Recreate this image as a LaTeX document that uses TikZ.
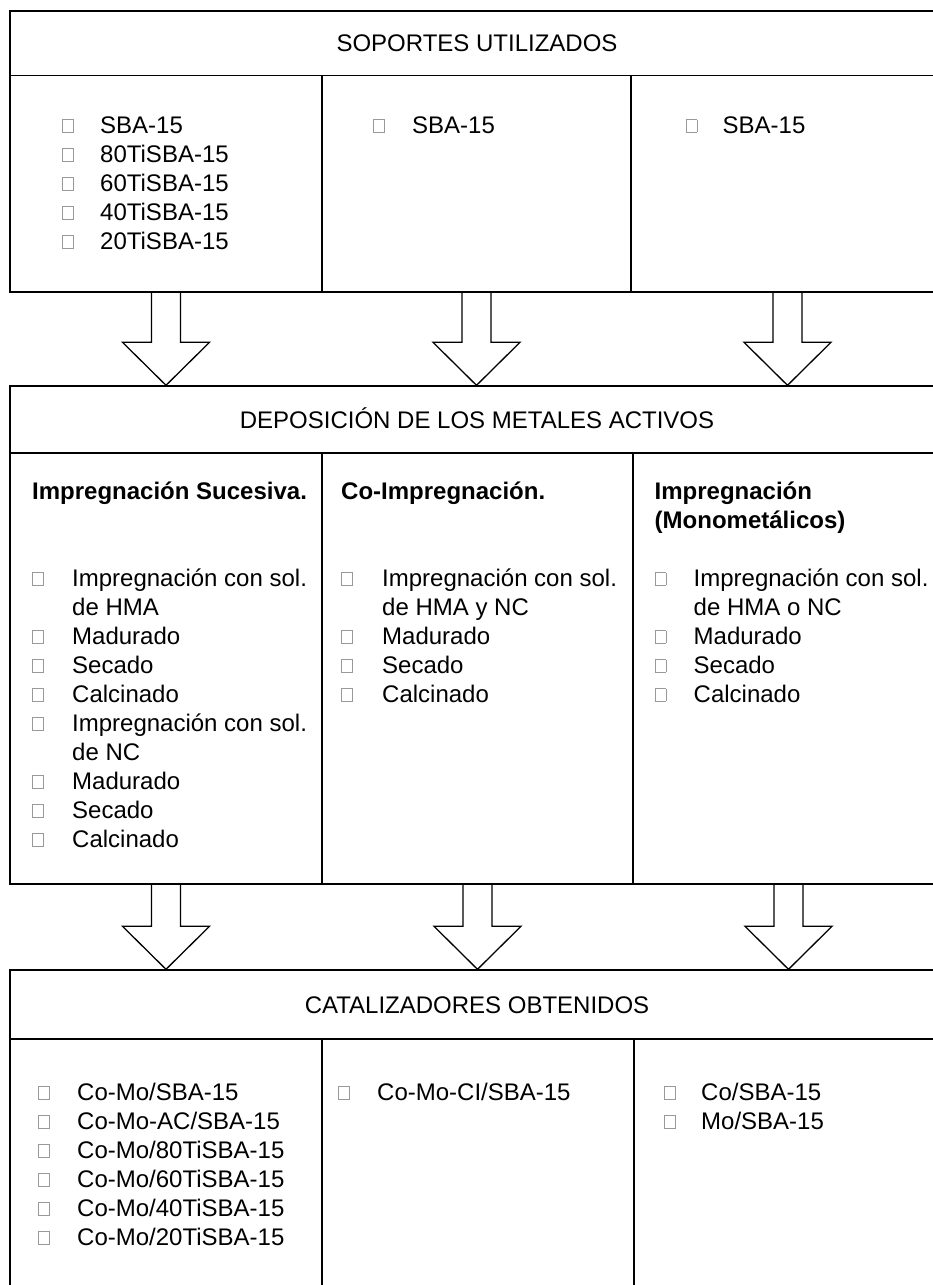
\documentclass[tikz,border=0pt]{standalone}
\usepackage{fontspec}
\setmainfont{Liberation Sans}
\usetikzlibrary{calc}
\newcommand\bx{\raisebox{1.5pt}{\textcolor{black!40}{\setlength\fboxsep{0pt}\setlength\fboxrule{0.8pt}\fbox{\rule{0pt}{11.5pt}\hspace*{10pt}}}}}
\newlength\bgap
\newcommand\itm[1]{\makebox[\bgap][l]{\bx}#1}
\newcommand\cnt[1]{\hspace*{\bgap}#1}
\newcommand\lst[2]{\setlength\bgap{#1}\begin{tabular}[t]{@{}l@{}}#2\end{tabular}}
\newcommand\blockarrow[2]{\draw[barrow] let \p1=(#1), \p2=(#2) in
  (\x1-14.5pt,\y1) -- (\x1-14.5pt,\y2+43pt) -- (\x1-43.5pt,\y2+43pt) -- (\x2,\y2)
  -- (\x1+43.5pt,\y2+43pt) -- (\x1+14.5pt,\y2+43pt) -- (\x1+14.5pt,\y1);}
\tikzset{
  cell/.style={draw, line width=1.4pt, inner sep=0pt},
  hdr/.style={draw, line width=1.4pt, inner sep=0pt, font=\fontsize{24}{29}\selectfont, text height=17.2pt, text depth=0pt},
  txt/.style={inner sep=0pt, anchor=base west, font=\fontsize{24}{29}\selectfont},
  barrow/.style={line width=1.3pt, line join=miter}
}
\begin{document}
\begin{tikzpicture}[x=1pt,y=-1pt]
\useasboundingbox (0,0) rectangle (933,1285);
\clip (0,0) rectangle (933,1285);
\fill[white] (0,0) rectangle (933,1285);
% top box
\node[hdr, minimum width=934pt, minimum height=64.5pt] (sh) at (477,43.25) {SOPORTES UTILIZADOS};
\node[cell, minimum width=312pt, minimum height=216.5pt] (s1) at (166,183.75) {};
\node[cell, minimum width=309pt, minimum height=216.5pt] (s2) at (476.5,183.75) {};
\node[cell, minimum width=313pt, minimum height=216.5pt] (s3) at (787.5,183.75) {};
\node[txt] (s1t) at (62,133) {\lst{38pt}{\itm{SBA-15}\\ \itm{80TiSBA-15}\\ \itm{60TiSBA-15}\\ \itm{40TiSBA-15}\\ \itm{20TiSBA-15}}};
\node[txt] (s2t) at (373,133) {\lst{39pt}{\itm{SBA-15}}};
\node[txt] (s3t) at (685.5,133) {\lst{37pt}{\itm{SBA-15}}};
% second box
\node[hdr, minimum width=934pt, minimum height=67pt] (dh) at (477,419.5) {DEPOSICIÓN DE LOS METALES ACTIVOS};
\node[cell, minimum width=312pt, minimum height=431pt] (d1) at (166,668.5) {};
\node[cell, minimum width=311pt, minimum height=431pt] (d2) at (477.5,668.5) {};
\node[cell, minimum width=311pt, minimum height=431pt] (d3) at (788.5,668.5) {};
\node[txt] (d1t) at (32,499) {\lst{40pt}{\textbf{Impregnación Sucesiva.}\\ \\ \\
  \itm{Impregnación con sol.}\\ \cnt{de HMA}\\ \itm{Madurado}\\ \itm{Secado}\\ \itm{Calcinado}\\
  \itm{Impregnación con sol.}\\ \cnt{de NC}\\ \itm{Madurado}\\ \itm{Secado}\\ \itm{Calcinado}}};
\node[txt] (d2t) at (341,499) {\lst{41pt}{\textbf{Co-Impregnación.}\\ \\ \\
  \itm{Impregnación con sol.}\\ \cnt{de HMA y NC}\\ \itm{Madurado}\\ \itm{Secado}\\ \itm{Calcinado}}};
\node[txt] (d3t) at (654.5,499) {\lst{39pt}{\textbf{Impregnación}\\ \textbf{(Monometálicos)}\\ \\
  \itm{Impregnación con sol.}\\ \cnt{de HMA o NC}\\ \itm{Madurado}\\ \itm{Secado}\\ \itm{Calcinado}}};
% third box
\node[hdr, minimum width=934pt, minimum height=69pt] (ch) at (477,1004.5) {CATALIZADORES OBTENIDOS};
\node[cell, minimum width=312pt, minimum height=261pt] (c1) at (166,1169.5) {};
\node[cell, minimum width=312pt, minimum height=261pt] (c2) at (478,1169.5) {};
\node[cell, minimum width=310pt, minimum height=261pt] (c3) at (789,1169.5) {};
\node[txt] (c1t) at (38,1100) {\lst{39pt}{\itm{Co-Mo/SBA-15}\\ \itm{Co-Mo-AC/SBA-15}\\ \itm{Co-Mo/80TiSBA-15}\\ \itm{Co-Mo/60TiSBA-15}\\ \itm{Co-Mo/40TiSBA-15}\\ \itm{Co-Mo/20TiSBA-15}}};
\node[txt] (c2t) at (338,1100) {\lst{39pt}{\itm{Co-Mo-CI/SBA-15}}};
\node[txt] (c3t) at (664,1100) {\lst{37pt}{\itm{Co/SBA-15}\\ \itm{Mo/SBA-15}}};
% block arrows
\blockarrow{s1.south}{s1.south |- dh.north}
\blockarrow{s2.south}{s2.south |- dh.north}
\blockarrow{s3.south}{s3.south |- dh.north}
\blockarrow{d1.south}{d1.south |- ch.north}
\blockarrow{d2.south}{d2.south |- ch.north}
\blockarrow{d3.south}{d3.south |- ch.north}
\end{tikzpicture}
\end{document}
